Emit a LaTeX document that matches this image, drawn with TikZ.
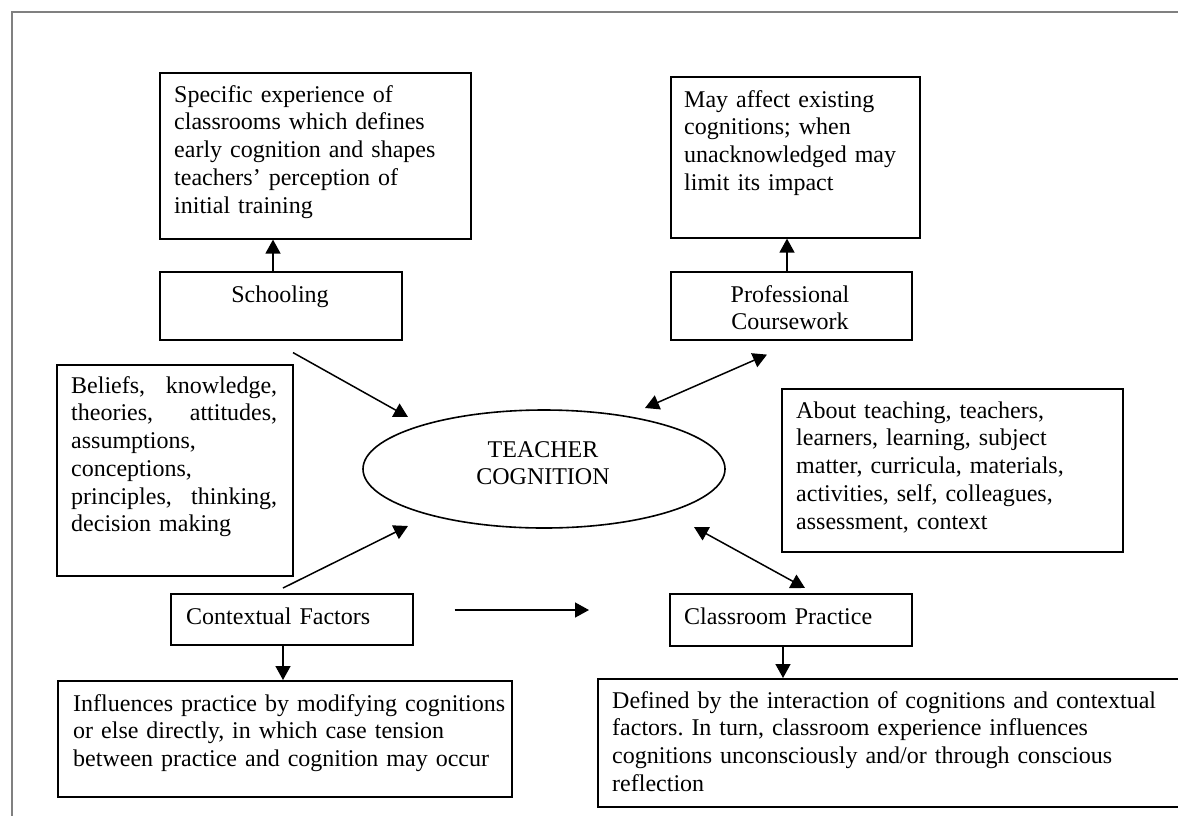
\documentclass[tikz,border=0pt]{standalone}
\usepackage{fontspec}
\setmainfont{Liberation Serif}
\usetikzlibrary{arrows.meta,calc,shapes.geometric}
\definecolor{framegray}{RGB}{128,128,128}
\frenchspacing
\begin{document}
\begin{tikzpicture}[x=1pt,y=-1pt,
  box/.style={draw, line width=1.6pt, rectangle, inner sep=0pt, anchor=north west},
  txt/.style={inner sep=0pt, anchor=base west, text width=#1, align=left, font=\fontsize{24}{27.75}\selectfont},
  ctxt/.style={inner sep=0pt, anchor=base, text width=#1, align=center, font=\fontsize{24}{27.75}\selectfont},
  tip/.tip={Triangle[length=14pt,width=15pt]},
  arr/.style={line width=1.5pt, -tip},
  darr/.style={line width=1.5pt, tip-tip},
]
\useasboundingbox (0,0) rectangle (1178,815);
\clip (0,0) rectangle (1178,815);
\fill[white] (0,0) rectangle (1178,815);
% outer frame
\draw[framegray, line width=2pt] (11.5,830) -- (11.5,11.5) -- (1190,11.5);

% boxes
\node[box, minimum width=311, minimum height=166] (spec) at (159,72) {};
\node[box, minimum width=242, minimum height=68] (school) at (159,271) {};
\node[box, minimum width=249, minimum height=161] (may) at (670,76) {};
\node[box, minimum width=241, minimum height=68] (prof) at (670,271) {};
\node[box, minimum width=236, minimum height=211] (beliefs) at (56,364) {};
\node[box, minimum width=341, minimum height=163] (about) at (781,388) {};
\node[box, minimum width=242, minimum height=51] (ctx) at (170,593) {};
\node[box, minimum width=242, minimum height=52] (cls) at (669,593) {};
\node[box, minimum width=454, minimum height=116] (infl) at (57,680) {};
\node[box, minimum width=640, minimum height=128] (def) at (597,678) {};
\node[draw, ellipse, line width=1.6pt, minimum width=362, minimum height=118, inner sep=0pt] (tc) at (544,469) {};

% texts
\node[txt=400] (spect) at (174,102) {Specific experience of\\classrooms which defines\\early cognition and shapes\\teachers’ perception of\\initial training};
\node[ctxt=220] (schoolt) at (280,302) {Schooling};
\node[txt=400] (mayt) at (684,107) {May affect existing\\cognitions; when\\unacknowledged may\\limit its impact};
\node[ctxt=220] (proft) at (790,302) {Professional\\Coursework};
\node[txt=206] (beliefst) at (71,393) {Beliefs,\hfill knowledge,\\theories,\hfill attitudes,\\assumptions,\\conceptions,\\principles,\hfill thinking,\\decision making};
\node[txt=400] (aboutt) at (796,418) {About teaching, teachers,\\learners, learning, subject\\matter, curricula, materials,\\activities, self, colleagues,\\assessment, context};
\node[ctxt=300] (tct) at (543,457) {TEACHER\\COGNITION};
\node[txt=300] (ctxt) at (186,624) {Contextual Factors};
\node[txt=300] (clst) at (684,624) {Classroom Practice};
\node[txt=500] (inflt) at (73,711) {Influences practice by modifying cognitions\\or else directly, in which case tension\\between practice and cognition may occur};
\node[txt=600] (deft) at (612,708) {Defined by the interaction of cognitions and contextual\\factors. In turn, classroom experience influences\\cognitions unconsciously and/or through conscious\\reflection};

% connectors
\draw[arr] ($(school.north west)+(114,0)$) -- ($(spec.south west)+(114,0)$);
\draw[arr] ($(prof.north west)+(117,0)$) -- ($(may.south west)+(117,0)$);
\draw[arr] ($(school.south west)+(134,12)$) -- ($(tc.center)+(-136,-52)$);
\draw[arr] ($(ctx.north west)+(113,-5)$) -- ($(tc.center)+(-136,57)$);
\draw[arr] ($(ctx.north east)+(41,17)$) -- ($(cls.north west)+(-80,17)$);
\draw[arr] ($(ctx.south west)+(113,0)$) -- ($(infl.north west)+(226,0)$);
\draw[arr] ($(cls.south west)+(114,0)$) -- ($(def.north west)+(186,0)$);
\draw[darr] ($(tc.center)+(101,-61)$) -- ($(prof.south west)+(97,14)$);
\draw[darr] ($(tc.center)+(150,58)$) -- ($(cls.north west)+(136,-5)$);
\end{tikzpicture}
\end{document}
